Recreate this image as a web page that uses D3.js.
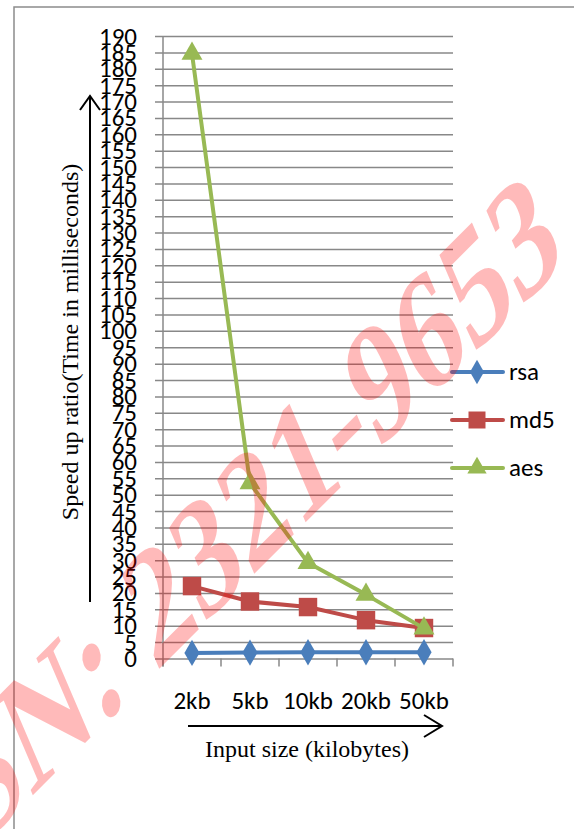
<!DOCTYPE html>
<html><head><meta charset="utf-8">
<script src="https://cdn.jsdelivr.net/npm/d3@7"></script>
<style>body{margin:0;background:#fff}svg{display:block}</style>
</head><body>
<svg id="c" width="574" height="829"></svg>
<script>
const categories = ["2kb","5kb","10kb","20kb","50kb"];
const rsa = [1.7, 1.8, 1.9, 1.9, 1.9];
const md5 = [22.1, 17.4, 15.7, 11.7, 9.3];
const aes = [184.6, 53.5, 29.2, 19.5, 9.2];
const seriesNames = ["rsa", "md5", "aes"];
const seriesColors = ["#4a7ebb", "#be4b48", "#98b954"];
const yTicks = d3.range(0, 191, 5);
const yTitle = "Speed up ratio(Time in milliseconds)";
const xTitle = "Input size (kilobytes)";
const watermark = "ISSN: 2321-9653";

const series = [rsa, md5, aes];
const symbols = [d3.symbolDiamond, d3.symbolSquare, d3.symbolTriangle];
const symSizes = [200, 340, 190];
const sansFont = "Carlito, Lato, sans-serif";
const serifFont = "'Liberation Serif', 'Times New Roman', serif";

const svg = d3.select("#c");
const x = d3.scaleBand().domain(categories).range([163, 453]);
const y = d3.scaleLinear().domain([0, 190]).range([658.5, 36]);

// outer border
svg.append("rect").attr("x", 14).attr("y", 7).attr("width", 700).attr("height", 900)
  .attr("fill", "none").attr("stroke", "#8c8c8c").attr("stroke-width", 1.5);

// gridlines + y labels
const yAxis = d3.axisLeft(y).tickValues(yTicks).tickSize(-(453 - 155)).tickPadding(18)
  .tickFormat(d3.format("d"));
const gy = svg.append("g").attr("transform", "translate(155,0)").call(yAxis);
gy.select(".domain").remove();
gy.selectAll(".tick line").attr("stroke", "#888").attr("stroke-width", 1.5);
gy.selectAll(".tick text").attr("font-family", sansFont).attr("font-size", 25).attr("fill", "#000");

// y axis line
svg.append("line").attr("x1", 163).attr("x2", 163).attr("y1", y(190)).attr("y2", y(0) + 8)
  .attr("stroke", "#888").attr("stroke-width", 1.5);
// x tick marks at category boundaries
const bounds = categories.map(c => x(c)).concat([x(categories[categories.length - 1]) + x.bandwidth()]);
svg.append("g").selectAll("line").data(bounds).join("line")
  .attr("x1", d => d).attr("x2", d => d).attr("y1", y(0)).attr("y2", y(0) + 8)
  .attr("stroke", "#888").attr("stroke-width", 1.5);

// x labels
const xAxis = d3.axisBottom(x).tickSize(0).tickPadding(0);
const gx = svg.append("g").attr("transform", "translate(0,0)").call(xAxis);
gx.select(".domain").remove();
gx.selectAll(".tick text").attr("font-family", sansFont).attr("font-size", 25).attr("fill", "#000")
  .attr("y", 709).attr("dy", null);

// series
const line = d3.line().x((d, i) => x(categories[i]) + x.bandwidth() / 2).y(d => y(d));
series.forEach((vals, si) => {
  const g = svg.append("g");
  g.append("path").attr("d", line(vals)).attr("fill", "none")
    .attr("stroke", seriesColors[si]).attr("stroke-width", 4).attr("stroke-linejoin", "round");
  g.selectAll("path.m").data(vals).join("path").attr("class", "m")
    .attr("transform", (d, i) => `translate(${x(categories[i]) + x.bandwidth() / 2},${y(d)})`)
    .attr("d", d3.symbol().type(symbols[si]).size(symSizes[si]))
    .attr("fill", seriesColors[si]);
});

// legend
const lg = svg.append("g");
seriesNames.forEach((name, si) => {
  const ly = 372 + si * 48;
  lg.append("line").attr("x1", 452).attr("x2", 503).attr("y1", ly).attr("y2", ly)
    .attr("stroke", seriesColors[si]).attr("stroke-width", 4).attr("stroke-linecap", "round");
  lg.append("path").attr("transform", `translate(477,${ly})`)
    .attr("d", d3.symbol().type(symbols[si]).size(symSizes[si] * 0.85)).attr("fill", seriesColors[si]);
  lg.append("text").attr("x", 509).attr("y", ly).attr("dy", "0.33em")
    .attr("font-family", sansFont).attr("font-size", 25).text(name);
});

// y title + arrow
svg.append("text").attr("transform", "translate(78,342) rotate(-90)").attr("text-anchor", "middle")
  .attr("font-family", serifFont).attr("font-size", 24).text(yTitle);
svg.append("path").attr("d", "M90,602 L90,96 M80,110 L90,96 L100,110")
  .attr("fill", "none").attr("stroke", "#000").attr("stroke-width", 2);

// x arrow + title
svg.append("path").attr("d", "M188,726 L442,726 M424,715 L442,726 L424,737")
  .attr("fill", "none").attr("stroke", "#000").attr("stroke-width", 2);
svg.append("text").attr("x", 307).attr("y", 757).attr("text-anchor", "middle")
  .attr("font-family", serifFont).attr("font-size", 24).text(xTitle);

// watermark
svg.append("text").attr("transform", "matrix(0.7,-0.7,0.45,1.05,-112,940)")
  .attr("font-family", serifFont).attr("font-weight", "bold").attr("font-size", 136)
  .attr("fill", "rgba(255,0,0,0.27)").text(watermark);
</script>
</body></html>
